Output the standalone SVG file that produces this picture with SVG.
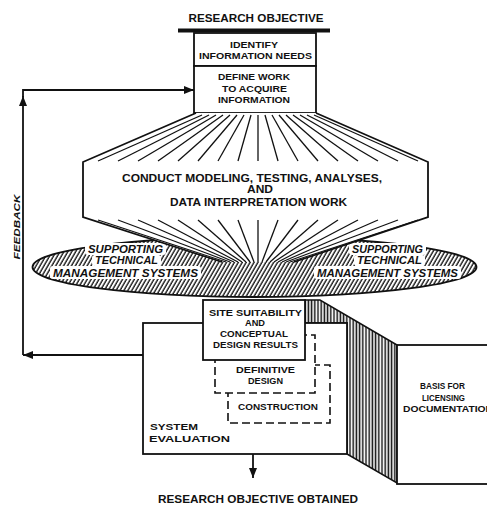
<svg xmlns="http://www.w3.org/2000/svg" width="487" height="507" viewBox="0 0 487 507">
<defs>
<style>
text{font-family:"Liberation Sans",Arial,sans-serif;font-weight:bold;fill:#111;text-anchor:middle}
.it{font-style:italic}
.box{fill:#fff;stroke:#111;stroke-width:1.8}
.ln{fill:none;stroke:#111;stroke-width:1.8}
.ray{stroke:#111;stroke-width:1.3;fill:none}
.dash{fill:#fff;stroke:#111;stroke-width:1.6;stroke-dasharray:8 4}
.wbg{fill:#fff}
</style>
<pattern id="diag" width="3.4" height="10" patternUnits="userSpaceOnUse" patternTransform="rotate(30)">
<rect width="3.4" height="10" fill="#fff"/>
<line x1="1" y1="0" x2="1" y2="10" stroke="#111" stroke-width="1.35"/>
</pattern>
<pattern id="vert" width="3.2" height="10" patternUnits="userSpaceOnUse">
<rect width="3.2" height="10" fill="#fff"/>
<line x1="1.2" y1="0" x2="1.2" y2="10" stroke="#111" stroke-width="1.5"/>
</pattern>
<marker id="ah" markerUnits="userSpaceOnUse" markerWidth="10" markerHeight="8" viewBox="0 0 10 8" refX="10" refY="4" orient="auto">
<path d="M0,0 L10,4 L0,8 z" fill="#111"/>
</marker>
</defs>
<rect width="487" height="507" fill="#fff"/>

<g id="title">
<text x="256" y="22" font-size="11" textLength="135" lengthAdjust="spacingAndGlyphs">RESEARCH OBJECTIVE</text>
<rect x="178" y="28.5" width="152" height="4" fill="#111"/>
</g>

<g id="box-identify">
<rect class="box" x="194" y="33" width="122" height="33"/>
<text x="254" y="48" font-size="8.5" textLength="48" lengthAdjust="spacingAndGlyphs">IDENTIFY</text>
<text x="255.5" y="59" font-size="8.5" textLength="113" lengthAdjust="spacingAndGlyphs">INFORMATION NEEDS</text>
</g>

<g id="box-define">
<rect class="box" x="194" y="66" width="122" height="47"/>
<text x="254" y="80" font-size="8.5" textLength="72" lengthAdjust="spacingAndGlyphs">DEFINE WORK</text>
<text x="254.5" y="92" font-size="8.5" textLength="65" lengthAdjust="spacingAndGlyphs">TO ACQUIRE</text>
<text x="254" y="103" font-size="8.5" textLength="72" lengthAdjust="spacingAndGlyphs">INFORMATION</text>
</g>

<g id="ellipse-support">
<ellipse cx="254.5" cy="267" rx="222" ry="30" fill="url(#diag)" stroke="#111" stroke-width="1.8"/>
<rect class="wbg" x="85" y="243" width="81" height="12" rx="3"/>
<rect class="wbg" x="92" y="255" width="69" height="11" rx="3"/>
<rect class="wbg" x="50" y="266" width="151" height="13" rx="3"/>
<rect class="wbg" x="349" y="243" width="77" height="12" rx="3"/>
<rect class="wbg" x="354" y="255" width="71" height="11" rx="3"/>
<rect class="wbg" x="314" y="266" width="147" height="13" rx="3"/>
<text class="it" x="125.5" y="253" font-size="10" textLength="75" lengthAdjust="spacingAndGlyphs">SUPPORTING</text>
<text class="it" x="126.5" y="264" font-size="10" textLength="63" lengthAdjust="spacingAndGlyphs">TECHNICAL</text>
<text class="it" x="125.5" y="277" font-size="10" textLength="145" lengthAdjust="spacingAndGlyphs">MANAGEMENT SYSTEMS</text>
<text class="it" x="387.5" y="253" font-size="10" textLength="71" lengthAdjust="spacingAndGlyphs">SUPPORTING</text>
<text class="it" x="389.5" y="264" font-size="10" textLength="65" lengthAdjust="spacingAndGlyphs">TECHNICAL</text>
<text class="it" x="387.5" y="277" font-size="10" textLength="141" lengthAdjust="spacingAndGlyphs">MANAGEMENT SYSTEMS</text>
</g>

<g id="hex-conduct">
<polygon points="196,113 83,162 83,217 222,262 294,262 428,217 428,162 316,113" fill="#fff"/>
<polyline class="ln" points="196,113 83,162 83,217 222,262"/>
<polyline class="ln" points="316,113 428,162 428,217 294,262"/>
<g class="ray">
<line x1="202" y1="115" x2="98" y2="161"/>
<line x1="209" y1="115" x2="118" y2="161"/>
<line x1="216" y1="115" x2="138" y2="161"/>
<line x1="223" y1="115" x2="158" y2="161"/>
<line x1="230" y1="115" x2="178" y2="161"/>
<line x1="237" y1="115" x2="198" y2="161"/>
<line x1="244" y1="115" x2="218" y2="161"/>
<line x1="251" y1="115" x2="238" y2="161"/>
<line x1="258" y1="115" x2="258" y2="161"/>
<line x1="265" y1="115" x2="278" y2="161"/>
<line x1="272" y1="115" x2="298" y2="161"/>
<line x1="279" y1="115" x2="318" y2="161"/>
<line x1="286" y1="115" x2="338" y2="161"/>
<line x1="293" y1="115" x2="358" y2="161"/>
<line x1="300" y1="115" x2="378" y2="161"/>
<line x1="307" y1="115" x2="398" y2="161"/>
<line x1="314" y1="115" x2="418" y2="161"/>
<line x1="98" y1="220" x2="226" y2="262"/>
<line x1="118" y1="220" x2="230" y2="262"/>
<line x1="138" y1="220" x2="234" y2="262"/>
<line x1="158" y1="220" x2="238" y2="262"/>
<line x1="178" y1="220" x2="242" y2="262"/>
<line x1="198" y1="220" x2="246" y2="262"/>
<line x1="218" y1="220" x2="250" y2="262"/>
<line x1="238" y1="220" x2="254" y2="262"/>
<line x1="258" y1="220" x2="258" y2="262"/>
<line x1="278" y1="220" x2="262" y2="262"/>
<line x1="298" y1="220" x2="266" y2="262"/>
<line x1="318" y1="220" x2="270" y2="262"/>
<line x1="338" y1="220" x2="274" y2="262"/>
<line x1="358" y1="220" x2="278" y2="262"/>
<line x1="378" y1="220" x2="282" y2="262"/>
<line x1="398" y1="220" x2="286" y2="262"/>
<line x1="418" y1="220" x2="290" y2="262"/>
</g>
<text x="252" y="182" font-size="11" textLength="260" lengthAdjust="spacingAndGlyphs">CONDUCT MODELING, TESTING, ANALYSES,</text>
<text x="260" y="193" font-size="11" textLength="26" lengthAdjust="spacingAndGlyphs">AND</text>
<text x="258.5" y="206" font-size="11" textLength="177" lengthAdjust="spacingAndGlyphs">DATA INTERPRETATION WORK</text>
</g>

<g id="slab">
<polygon points="305,300 320,300 397,345 397,483 347,454 347,323 305,323" fill="url(#vert)" stroke="#111" stroke-width="1.5"/>
</g>

<g id="box-syseval">
<rect class="box" x="143" y="323" width="204" height="131"/>
<text x="150" y="430" font-size="9.5" textLength="48" lengthAdjust="spacingAndGlyphs" style="text-anchor:start">SYSTEM</text>
<text x="149" y="442" font-size="9.5" textLength="81" lengthAdjust="spacingAndGlyphs" style="text-anchor:start">EVALUATION</text>
</g>

<g id="box-construction">
<rect class="dash" x="228" y="365" width="102" height="58"/>
<text x="278" y="410" font-size="8.5" textLength="80" lengthAdjust="spacingAndGlyphs">CONSTRUCTION</text>
</g>

<g id="box-definitive">
<rect class="dash" x="215" y="335" width="100" height="58"/>
<text x="265.5" y="373" font-size="8.5" textLength="59" lengthAdjust="spacingAndGlyphs">DEFINITIVE</text>
<text x="265.5" y="384" font-size="8.5" textLength="35" lengthAdjust="spacingAndGlyphs">DESIGN</text>
</g>

<g id="box-site">
<rect class="box" x="203" y="300" width="102" height="60"/>
<text x="255.5" y="316" font-size="8.5" textLength="93" lengthAdjust="spacingAndGlyphs">SITE SUITABILITY</text>
<text x="255" y="326" font-size="8.5" textLength="20" lengthAdjust="spacingAndGlyphs">AND</text>
<text x="254" y="337" font-size="8.5" textLength="68" lengthAdjust="spacingAndGlyphs">CONCEPTUAL</text>
<text x="255.5" y="348" font-size="8.5" textLength="85" lengthAdjust="spacingAndGlyphs">DESIGN RESULTS</text>
</g>

<g id="box-basis">
<rect class="box" x="397" y="345" width="100" height="139"/>
<text x="442.5" y="389" font-size="8.5" textLength="45" lengthAdjust="spacingAndGlyphs">BASIS FOR</text>
<text x="443.5" y="401" font-size="8.5" textLength="43" lengthAdjust="spacingAndGlyphs">LICENSING</text>
<text x="403" y="412" font-size="8.5" textLength="90" lengthAdjust="spacingAndGlyphs" style="text-anchor:start">DOCUMENTATION</text>
</g>

<g id="result">
<text x="258" y="503" font-size="11" textLength="200" lengthAdjust="spacingAndGlyphs">RESEARCH OBJECTIVE OBTAINED</text>
</g>

<g id="feedback-label">
<text class="it" transform="translate(20,227) rotate(-90)" font-size="9.5" textLength="65" lengthAdjust="spacingAndGlyphs">FEEDBACK</text>
</g>

<g id="connectors">
<path class="ln" d="M143 355 H23" marker-end="url(#ah)"/>
<path class="ln" d="M23 355 V96" marker-end="url(#ah)"/>
<path class="ln" d="M23 97 V90 H194" marker-end="url(#ah)"/>
<path class="ln" d="M253 454 V478" marker-end="url(#ah)"/>
</g>
</svg>
